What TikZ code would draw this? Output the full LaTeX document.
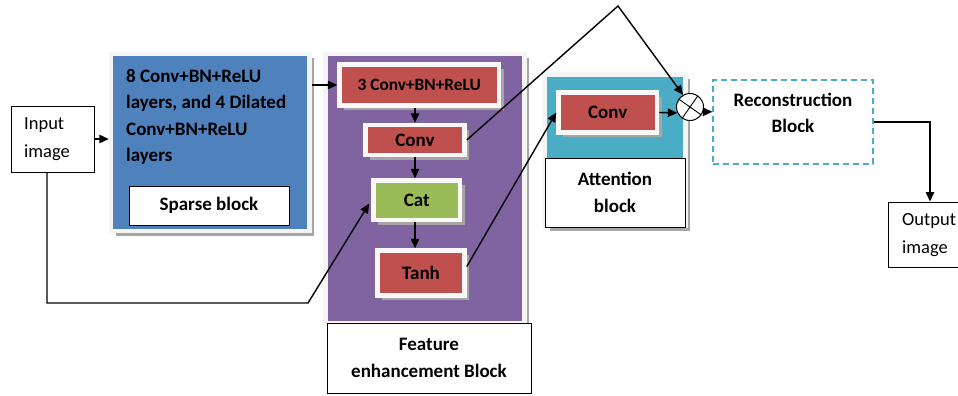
\documentclass[tikz,border=0pt]{standalone}
\usepackage{fontspec}
\setmainfont{Carlito}
\usetikzlibrary{arrows.meta,shadows}
\definecolor{oblue}{HTML}{4F81BD}
\definecolor{opurple}{HTML}{8064A2}
\definecolor{ored}{HTML}{C0504D}
\definecolor{ogreen}{HTML}{9BBB59}
\definecolor{ocyan}{HTML}{4BACC6}
\begin{document}
\begin{tikzpicture}[x=1pt,y=-1pt,
  blk/.style={draw=gray!8, line width=4.5pt, inner sep=0pt,
    drop shadow={shadow xshift=4.5pt, shadow yshift=-4.5pt, fill=gray!70, opacity=1}},
  lbl/.style={draw=black, fill=white, line width=0.9pt, inner sep=0pt,
    font=\bfseries\fontsize{19}{27}\selectfont, align=center},
  txt/.style={inner sep=0pt, font=\bfseries\fontsize{19}{26.5}\selectfont, align=center},
  plain/.style={draw=black, fill=white, line width=0.9pt, inner sep=0pt},
  ptxt/.style={inner sep=0pt, font=\fontsize{18.5}{28}\selectfont, align=left, anchor=west},
  arr/.style={-{Triangle[length=9.5pt,width=8.5pt]}, line width=1.4pt}
]
\useasboundingbox (0,0) rectangle (958,396);

% input
\node[plain, minimum width=83pt, minimum height=66pt] (input) at (52.5,139) {};
\node[ptxt] (inputtxt) at (24,139) {Input\\image};

% sparse block
\node[blk, fill=oblue, minimum width=198.5pt, minimum height=177pt] (sparse) at (210.25,142.5) {};
\node[txt, align=left, anchor=west] (sparsetxt) at (126,117) {8 Conv+BN+ReLU\\layers, and 4 Dilated\\Conv+BN+ReLU\\layers};
\node[lbl, minimum width=160pt, minimum height=39pt] (sparselbl) at (209,205.5) {Sparse block};

% feature enhancement block
\node[blk, fill=opurple, minimum width=199pt, minimum height=269pt] (feat) at (425,188.5) {};
\node[lbl, minimum width=204pt, minimum height=70pt] (featlbl) at (429,358) {Feature\\enhancement Block};
\node[blk, draw=gray!5, fill=ored, minimum width=159.5pt, minimum height=41pt,
  font=\bfseries\fontsize{17.3}{20}\selectfont] (c3) at (419.25,85) {3 Conv+BN+ReLU};
\node[blk, draw=gray!5, fill=ored, minimum width=99pt, minimum height=30pt, txt] (conv) at (415,140) {Conv};
\node[blk, draw=gray!5, fill=ogreen, minimum width=86.5pt, minimum height=39.5pt, txt] (cat) at (416.75,200.25) {Cat};
\node[blk, draw=gray!5, fill=ored, minimum width=87pt, minimum height=45pt, txt] (tanh) at (421,273) {Tanh};

% attention block
\node[blk, fill=ocyan, minimum width=140.5pt, minimum height=151.5pt] (att) at (615.25,150.25) {};
\node[lbl, minimum width=140pt, minimum height=69pt] (attlbl) at (615,192.5) {Attention\\block};
\node[blk, draw=gray!5, fill=ored, minimum width=98.5pt, minimum height=40pt, txt] (aconv) at (607.75,112.5) {Conv};

% multiplication
\node[circle, draw=black, fill=white, line width=1pt, minimum size=27pt, inner sep=0pt] (circ) at (690,107) {};
\draw[line width=0.9pt] (circ.55) -- (circ.235) (circ.145) -- (circ.325);

% reconstruction
\node[draw=ocyan, dash pattern=on 6pt off 4pt, line width=1.3pt, minimum width=160pt, minimum height=84pt, inner sep=0pt] (recon) at (793,122) {};
\node[txt] (recontxt) at (793,113) {Reconstruction\\Block};

% output
\node[plain, minimum width=84pt, minimum height=65pt] (output) at (930,234.5) {};
\node[ptxt] (outputtxt) at (902,235) {Output\\image};

% connectors
\coordinate (peak) at (618,6);
\coordinate (b1) at (47,303);
\coordinate (b2) at (308,303);
\draw[arr] (input.east) -- (input.east -| sparse.west);
\draw[arr] (sparse.east |- c3.west) -- (c3.west);
\draw[arr] (c3.south -| conv.north) -- (conv.north);
\draw[arr] (conv.south) -- (conv.south |- cat.north);
\draw[arr] (cat.south -| conv.south) -- (tanh.north -| conv.south);
\draw[arr, shorten >=4pt] (input.south -| b1) -- (b1) -- (b2) -- (cat.west);
\draw[arr] (conv.east) -- (peak) -- (circ.120);
\draw[arr] (tanh.8) -- (aconv.west);
\draw[arr] (aconv.east) -- (circ.205);
\draw[arr] (circ.-20) -- (circ.-20 -| recon.west);
\draw[arr] (recon.east) -| (output.north);
\end{tikzpicture}
\end{document}
